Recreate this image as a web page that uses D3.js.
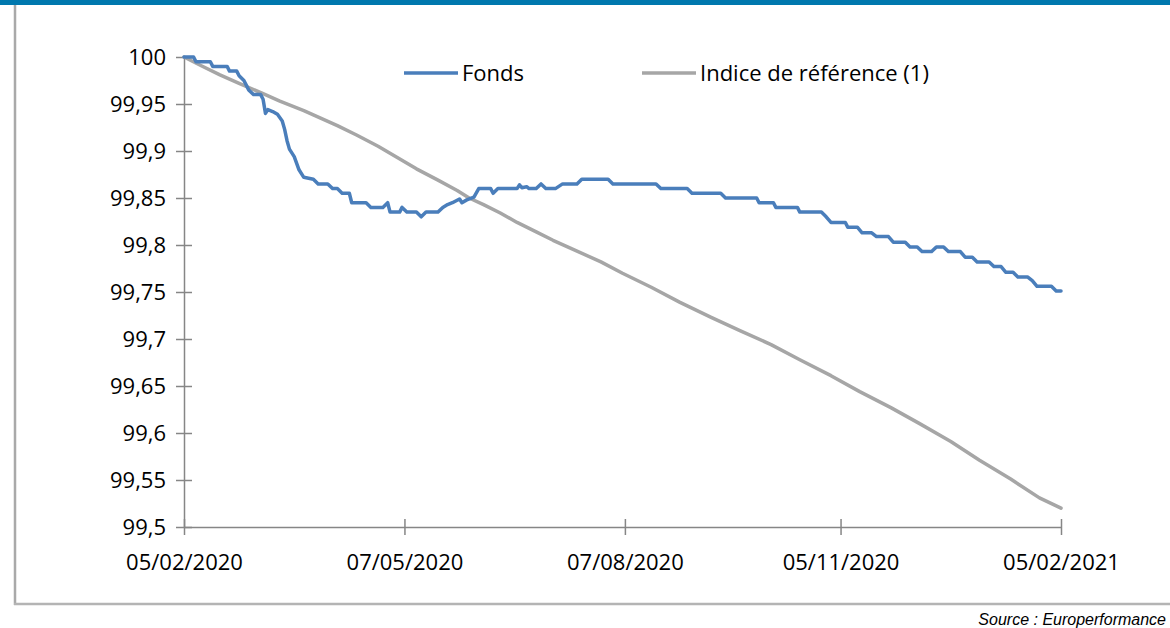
<!DOCTYPE html>
<html lang="fr">
<head>
<meta charset="UTF-8">
<title>Fonds vs Indice de référence</title>
<style>
  body { margin: 0; background: #fff; }
  .axis path, .axis line { stroke: #868686; stroke-width: 1.5px; }
  .axis text { font-family: "Open Sans", "Liberation Sans", sans-serif; font-size: 22px; fill: #000; }
  .line { fill: none; stroke-width: 3.5px; stroke-linejoin: round; stroke-linecap: round; }
</style>
</head>
<body>
<div id="chart"></div>
<script src="https://d3js.org/d3.v7.min.js"></script>
<script>
// days counted from 05/02/2020
const startDate = new Date(2020, 1, 5);
const tickDates = ["05/02/2020", "07/05/2020", "07/08/2020", "05/11/2020", "05/02/2021"];
const yTicks = [99.5, 99.55, 99.6, 99.65, 99.7, 99.75, 99.8, 99.85, 99.9, 99.95, 100];

const fundDays = [0, 4, 5, 11, 12, 18, 19, 22, 23, 25, 27, 29, 32, 33, 34, 35, 37, 39, 41, 42, 43, 44, 46, 48, 50,
  54, 56, 60, 62, 64, 66, 69, 70, 76, 78, 83, 85, 86, 90, 91, 93, 97, 99, 101, 106, 108, 110, 112, 115, 116, 118,
  121, 123, 128, 129, 131, 139, 140, 141, 143, 144, 147, 149, 151, 155, 158, 164, 166, 177, 179, 197, 199, 210,
  212, 224, 226, 239, 240, 246, 247, 256, 257, 266, 268, 270, 276, 277, 281, 283, 287, 289, 294, 296, 301, 303,
  306, 308, 312, 314, 317, 319, 324, 326, 329, 331, 336, 338, 341, 343, 346, 348, 352, 354, 356, 362, 364, 366];
const fundValues = [100, 100, 99.995, 99.995, 99.99, 99.99, 99.985, 99.985, 99.98, 99.975, 99.965, 99.96, 99.96,
  99.955, 99.94, 99.944, 99.942, 99.939, 99.932, 99.923, 99.911, 99.902, 99.894, 99.88, 99.872,
  99.87, 99.865, 99.865, 99.86, 99.86, 99.855, 99.855, 99.845, 99.845, 99.84, 99.84, 99.845, 99.835, 99.835, 99.84,
  99.835, 99.835, 99.83, 99.835, 99.835, 99.84, 99.843, 99.845, 99.849, 99.845, 99.848,
  99.851, 99.86, 99.86, 99.855, 99.86, 99.86, 99.864, 99.861, 99.862, 99.86, 99.86, 99.865, 99.86, 99.86, 99.865,
  99.865, 99.87, 99.87, 99.865, 99.865, 99.86, 99.86,
  99.855, 99.855, 99.85, 99.85, 99.845, 99.845, 99.84, 99.84, 99.835, 99.835, 99.83, 99.824, 99.824, 99.819,
  99.819, 99.813, 99.813, 99.809, 99.809, 99.803, 99.803, 99.798,
  99.798, 99.793, 99.793, 99.798, 99.798, 99.793, 99.793, 99.787, 99.787, 99.782, 99.782, 99.777, 99.777, 99.771,
  99.771, 99.766, 99.766, 99.762, 99.756, 99.756, 99.751, 99.751];

const refDays = [0, 7, 15, 23, 33, 40, 50, 57, 64, 72, 81, 89, 97, 106, 114, 119, 125, 132, 139, 147, 154, 161,
  174, 183, 195, 207, 220, 232, 245, 257, 270, 282, 295, 307, 320, 332, 345, 357, 366];
const refValues = [100, 99.991, 99.981, 99.972, 99.961, 99.953, 99.943, 99.935, 99.927, 99.917, 99.905, 99.893,
  99.881, 99.869, 99.858, 99.85, 99.843, 99.834, 99.824, 99.814, 99.805, 99.797,
  99.782, 99.77, 99.755, 99.739, 99.723, 99.709, 99.694, 99.678, 99.661, 99.644, 99.627, 99.61, 99.591, 99.571,
  99.551, 99.531, 99.52];

const W = 1170, H = 628;
const plot = {left: 184, right: 1061, top: 57, bottom: 527};

const svg = d3.select("#chart").append("svg")
  .attr("width", W)
  .attr("height", H);

// top band and frame
svg.append("rect").attr("x", 0).attr("y", 0).attr("width", W).attr("height", 5).attr("fill", "#0078AE");
svg.append("line").attr("x1", 15).attr("x2", 15).attr("y1", 5).attr("y2", 605)
  .attr("stroke", "#A9A9A9").attr("stroke-width", 2.5);
svg.append("line").attr("x1", 14).attr("x2", W).attr("y1", 604).attr("y2", 604)
  .attr("stroke", "#B4B4B4").attr("stroke-width", 2.5);

const parseDate = d3.timeParse("%d/%m/%Y");
const fmtDate = d3.timeFormat("%d/%m/%Y");

const x = d3.scaleTime()
  .domain([startDate, d3.timeDay.offset(startDate, 366)])
  .range([plot.left, plot.right]);

const y = d3.scaleLinear()
  .domain([99.5, 100])
  .range([plot.bottom, plot.top]);

const fmtY = d => String(+d.toFixed(2)).replace(".", ",");

const yAxis = svg.append("g")
  .attr("class", "axis")
  .attr("transform", `translate(${plot.left},0)`)
  .call(d3.axisLeft(y).tickValues(yTicks).tickFormat(fmtY).tickSizeInner(8).tickSizeOuter(0).tickPadding(10));
yAxis.selectAll(".tick line").attr("x2", 8).attr("x1", -8);

const xAxis = svg.append("g")
  .attr("class", "axis")
  .attr("transform", `translate(0,${plot.bottom})`)
  .call(d3.axisBottom(x).tickValues(tickDates.map(parseDate)).tickFormat(fmtDate)
    .tickSizeInner(8).tickSizeOuter(0).tickPadding(19));
xAxis.selectAll(".tick line").attr("y1", -8).attr("y2", 8);

const fundData = fundDays.map((d, i) => ({date: d3.timeDay.offset(startDate, d), v: fundValues[i]}));
const refData = refDays.map((d, i) => ({date: d3.timeDay.offset(startDate, d), v: refValues[i]}));

const line = d3.line()
  .x(d => x(d.date))
  .y(d => y(d.v));

svg.append("path").datum(refData).attr("class", "line").attr("stroke", "#A6A6A6").attr("d", line);
svg.append("path").datum(fundData).attr("class", "line").attr("stroke", "#4A7EBB").attr("d", line);

// legend
const legend = [
  {name: "Fonds", color: "#4A7EBB", x: 404},
  {name: "Indice de référence (1)", color: "#A6A6A6", x: 642}
];
const lg = svg.append("g").selectAll("g").data(legend).enter().append("g")
  .attr("transform", d => `translate(${d.x},73)`);
lg.append("line").attr("x1", 0).attr("x2", 54).attr("y1", 0).attr("y2", 0)
  .attr("stroke", d => d.color).attr("stroke-width", 3.5);
lg.append("text").attr("x", 58).attr("y", 0).attr("dy", "0.35em")
  .style("font-family", "'Open Sans', 'Liberation Sans', sans-serif").style("font-size", "22px")
  .text(d => d.name);

svg.append("text")
  .attr("x", 1166).attr("y", 625)
  .attr("text-anchor", "end")
  .style("font-family", "'Liberation Sans', Arial, sans-serif")
  .style("font-style", "italic").style("font-size", "16px")
  .text("Source : Europerformance");
</script>
</body>
</html>
